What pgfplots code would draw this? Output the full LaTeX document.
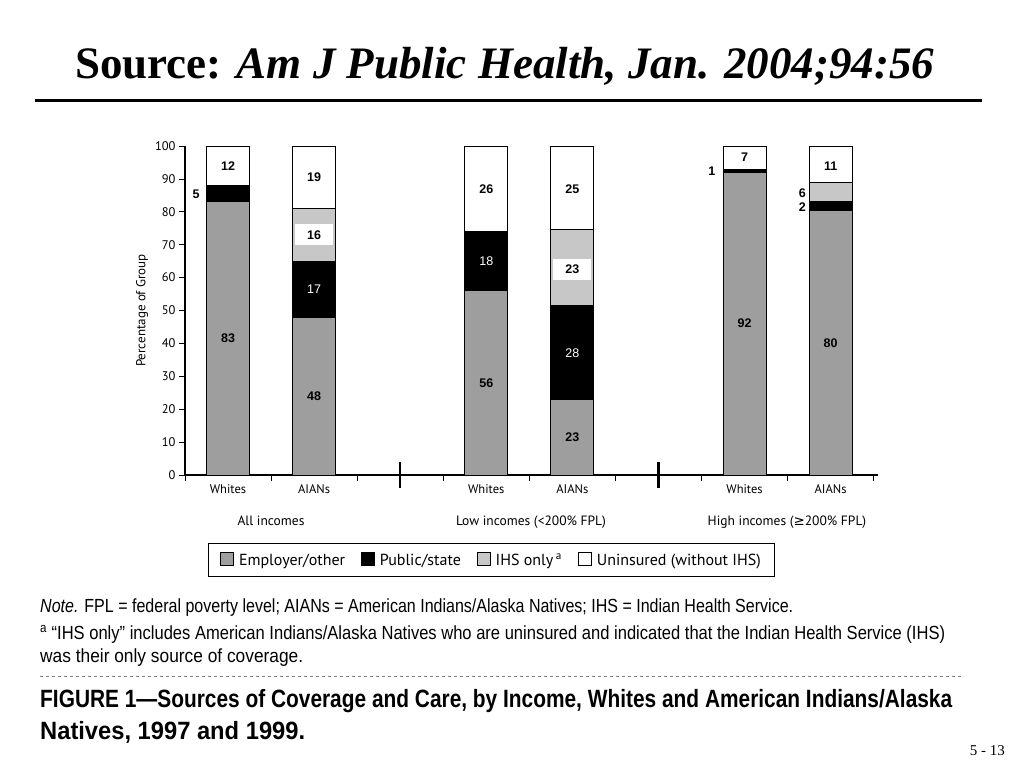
\documentclass[border=0pt]{standalone}
\usepackage{pgfplots}
\pgfplotsset{compat=1.18}
\usepackage{fontspec}
\usepackage{graphicx}
\setmainfont{Liberation Serif}
\newfontfamily\chartfont{PT Sans}
\newfontfamily\numfont{Liberation Sans}
\newfontfamily\dejavu{DejaVu Sans}
\definecolor{empl}{gray}{0.62}
\definecolor{ihs}{gray}{0.78}
\tikzset{
  barlab/.style={font=\numfont\bfseries\fontsize{12.5}{14}\selectfont, text=black, inner sep=1pt},
  barlabw/.style={font=\numfont\fontsize{12.5}{14}\selectfont, text=white, inner sep=1pt},
  barlabbox/.style={font=\numfont\bfseries\fontsize{12.5}{14}\selectfont, text=black, fill=white, minimum width=38pt, minimum height=21pt, inner sep=0pt},
}
\begin{document}
\begin{tikzpicture}
\path[use as bounding box] (0pt,0pt) rectangle (1024pt,-768pt);
% slide title
\node[anchor=base west, inner sep=0pt] at (75pt,-78pt) {\fontsize{45}{50}\selectfont\bfseries Source: \textit{Am J Public Health, Jan. 2004;94:56}};
\draw[line width=3pt] (35pt,-100pt) -- (982pt,-100pt);

\begin{axis}[
  at={(185pt,-475pt)}, anchor=south west,
  scale only axis, width=693pt, height=329pt,
  xmin=0.5, xmax=8.55, ymin=0, ymax=100,
  axis x line=bottom, axis y line=left,
  axis line style={-, line width=1.2pt},
  clip=false,
  ybar stacked, bar width=0.5,
  xtick={0.5,1.5,2.5,3.5,4.5,5.5,6.5,7.5,8.5},
  xticklabels={Whites,AIANs,,Whites,AIANs,,Whites,AIANs,},
  xticklabel style={xshift=43pt},
  ytick={0,10,...,100},
  tick align=outside, major tick length=6pt,
  tick style={black, line width=0.8pt},
  extra x ticks={3,6}, extra x tick labels={},
  extra x tick style={tick align=center, major tick length=26pt, tick style={line width=2.5pt}},
  tick label style={font=\chartfont\fontsize{12.5}{14}\selectfont},
  /pgf/number format/assume math mode=true,
  ylabel={Percentage of Group},
  ylabel style={font=\chartfont\fontsize{13}{15}\selectfont},
  legend image code/.code={\draw[#1, line width=0.8pt] (0pt,-5pt) rectangle (13pt,8pt);},
  legend style={at={(0.4423,-0.2067)}, anchor=north, legend columns=4, draw=black, line width=1pt,
    font=\chartfont\fontsize{16}{18}\selectfont,
    /tikz/every even column/.append style={column sep=14pt},
    /tikz/every odd column/.append style={column sep=3pt},
    inner xsep=12pt, inner ysep=8pt},
]
\addplot[fill=empl, draw=black, line width=1pt] coordinates {(1,83) (2,48) (4,56) (5,23) (7,92) (8,80.5)};
\addplot[fill=black, draw=black, line width=1pt] coordinates {(1,5) (2,17) (4,18) (5,28.5) (7,1) (8,2.5)};
\addplot[fill=ihs, draw=black, line width=1pt] coordinates {(1,0) (2,16) (4,0) (5,23) (7,0) (8,6)};
\addplot[fill=white, draw=black, line width=1pt] coordinates {(1,12) (2,19) (4,26) (5,25.5) (7,7) (8,11)};
\legend{Employer/other, Public/state, IHS only\,\textsuperscript{a}, Uninsured (without IHS)}

% anchor points for value labels
\coordinate (a1) at (1,41.5);
\coordinate (a2) at (1,94);
\coordinate (a3) at (0.63,85.3);
\coordinate (b1) at (2,24);
\coordinate (b2) at (2,56.5);
\coordinate (b3) at (2,73);
\coordinate (b4) at (2,90.5);
\coordinate (c1) at (4,28);
\coordinate (c2) at (4,65);
\coordinate (c3) at (4,87);
\coordinate (d1) at (5,11.5);
\coordinate (d2) at (5,37);
\coordinate (d3) at (5,62.5);
\coordinate (d4) at (5,87);
\coordinate (e1) at (7,46);
\coordinate (e2) at (6.62,92.3);
\coordinate (e3) at (7,96.5);
\coordinate (f1) at (8,40);
\coordinate (f2) at (7.67,85.8);
\coordinate (f3) at (7.67,81.4);
\coordinate (f4) at (8,94);
\end{axis}

\node[barlab] at (a1) {83};
\node[barlab] at (a2) {12};
\node[barlab] at (a3) {5};
\node[barlab] at (b1) {48};
\node[barlabw] at (b2) {17};
\node[barlabbox] at (b3) {16};
\node[barlab] at (b4) {19};
\node[barlab] at (c1) {56};
\node[barlabw] at (c2) {18};
\node[barlab] at (c3) {26};
\node[barlab] at (d1) {23};
\node[barlabw] at (d2) {28};
\node[barlabbox] at (d3) {23};
\node[barlab] at (d4) {25};
\node[barlab] at (e1) {92};
\node[barlab] at (e2) {1};
\node[barlab] at (e3) {7};
\node[barlab] at (f1) {80};
\node[barlab] at (f2) {6};
\node[barlab] at (f3) {2};
\node[barlab] at (f4) {11};

% group labels
\begin{scope}[every node/.style={font=\chartfont\fontsize{13.5}{16}\selectfont, anchor=base}]
\node at (271pt,-525pt) {All incomes};
\node at (531pt,-525pt) {Low incomes (<200\% FPL)};
\node at (787pt,-525pt) {High incomes ({\dejavu ≥}200\% FPL)};
\end{scope}

% notes
\node[anchor=base west, inner sep=0pt] at (40pt,-612pt) {\resizebox{753pt}{\height}{\numfont\fontsize{19}{22}\selectfont \textit{Note.} FPL = federal poverty level; AIANs = American Indians/Alaska Natives; IHS = Indian Health Service.}};
\node[anchor=base west, inner sep=0pt] at (40pt,-639pt) {\resizebox{905pt}{\height}{\numfont\fontsize{19}{22}\selectfont \textsuperscript{a} “IHS only” includes American Indians/Alaska Natives who are uninsured and indicated that the Indian Health Service (IHS)}};
\node[anchor=base west, inner sep=0pt] at (40pt,-662pt) {\resizebox{263pt}{\height}{\numfont\fontsize{19}{22}\selectfont was their only source of coverage.}};
\draw[gray, dashed, line width=1pt] (40pt,-676pt) -- (962pt,-676pt);
% caption
\node[anchor=base west, inner sep=0pt] at (40pt,-707pt) {\resizebox{912pt}{\height}{\numfont\bfseries\fontsize{25}{28}\selectfont FIGURE 1—Sources of Coverage and Care, by Income, Whites and American Indians/Alaska}};
\node[anchor=base west, inner sep=0pt] at (40pt,-739pt) {\resizebox{265pt}{\height}{\numfont\bfseries\fontsize{25}{28}\selectfont Natives, 1997 and 1999.}};
% page number
\node[anchor=base east, inner sep=0pt] at (1005pt,-755pt) {\fontsize{15}{17}\selectfont 5 - 13};
\end{tikzpicture}
\end{document}
